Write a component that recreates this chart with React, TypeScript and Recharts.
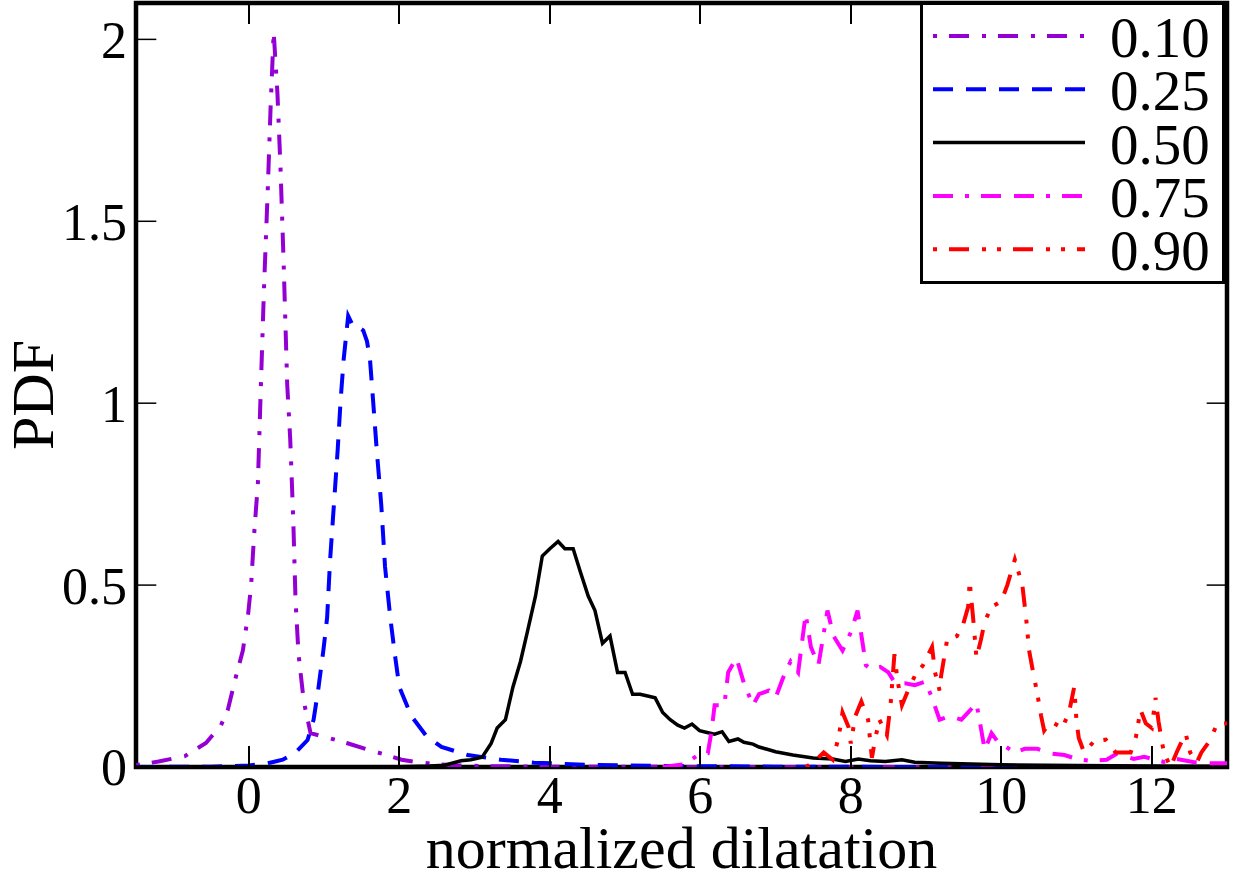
import React from 'react'
import { LineChart, Line, XAxis, YAxis, Legend, ReferenceArea, ReferenceLine } from 'recharts'

// normalized dilatation (x) vs PDF (y), one pair of arrays per quantile
const p10X = [-1.5, -1.2, -0.85, -0.57, -0.37, -0.28, -0.17, -0.08, -0.01, 0.03, 0.07, 0.12, 0.16, 0.2, 0.25, 0.29, 0.33, 0.38, 0.42, 0.46, 0.51, 0.55, 0.59, 0.62, 0.66, 0.73, 0.82, 1.06, 1.3, 1.59, 1.8, 2.03, 2.25, 2.47, 2.8, 3.3, 4, 5, 6, 8, 10, 13]
const p10Y = [0.005, 0.015, 0.03, 0.066, 0.115, 0.157, 0.25, 0.32, 0.42, 0.5, 0.64, 0.78, 1.05, 1.31, 1.58, 1.82, 2.02, 1.85, 1.65, 1.4, 1.05, 0.9, 0.68, 0.46, 0.31, 0.18, 0.093, 0.08, 0.066, 0.047, 0.035, 0.02, 0.013, 0.008, 0.004, 0.002, 0.001, 0.001, 0, 0, 0, 0]

const p25X = [-1.5, -0.5, 0, 0.25, 0.45, 0.62, 0.78, 0.86, 0.92, 0.99, 1.04, 1.08, 1.12, 1.18, 1.22, 1.26, 1.32, 1.39, 1.45, 1.52, 1.57, 1.61, 1.65, 1.7, 1.76, 1.81, 1.88, 1.94, 2.0, 2.16, 2.36, 2.56, 2.91, 3.35, 3.79, 4.5, 5.5, 7, 9, 11, 13]
const p25Y = [0, 0.001, 0.004, 0.01, 0.02, 0.04, 0.074, 0.13, 0.21, 0.32, 0.41, 0.57, 0.69, 0.87, 1.01, 1.12, 1.24, 1.21, 1.21, 1.2, 1.17, 1.12, 1.01, 0.87, 0.72, 0.55, 0.41, 0.31, 0.22, 0.14, 0.085, 0.055, 0.033, 0.02, 0.012, 0.006, 0.003, 0.001, 0, 0, 0]

const p50X = [-1.5, 0, 1, 2, 2.4, 2.6, 2.82, 2.95, 3.1, 3.22, 3.3, 3.41, 3.51, 3.61, 3.7, 3.81, 3.9, 4.0, 4.11, 4.2, 4.31, 4.4, 4.51, 4.6, 4.7, 4.8, 4.9, 5.0, 5.1, 5.2, 5.3, 5.4, 5.5, 5.6, 5.7, 5.79, 5.89, 5.99, 6.09, 6.19, 6.29, 6.38, 6.5, 6.58, 6.7, 6.78, 6.9, 7.0, 7.23, 7.5, 7.76, 7.93, 8.1, 8.26, 8.46, 8.68, 8.85, 9.2, 9.6, 10, 11, 12, 13]
const p50Y = [0, 0, 0, 0.001, 0.003, 0.005, 0.017, 0.02, 0.027, 0.065, 0.107, 0.13, 0.22, 0.29, 0.37, 0.47, 0.58, 0.6, 0.62, 0.6, 0.6, 0.54, 0.47, 0.43, 0.34, 0.36, 0.26, 0.26, 0.2, 0.2, 0.195, 0.19, 0.15, 0.13, 0.115, 0.107, 0.118, 0.1, 0.095, 0.09, 0.097, 0.07, 0.077, 0.068, 0.063, 0.055, 0.048, 0.042, 0.033, 0.025, 0.022, 0.015, 0.022, 0.017, 0.015, 0.02, 0.013, 0.01, 0.008, 0.006, 0.004, 0.003, 0.002]

const p75X = [5.5, 5.8, 5.97, 6.1, 6.15, 6.19, 6.32, 6.37, 6.48, 6.58, 6.7, 6.78, 6.91, 7.0, 7.1, 7.2, 7.3, 7.4, 7.47, 7.57, 7.69, 7.77, 7.89, 8.0, 8.09, 8.15, 8.2, 8.26, 8.39, 8.5, 8.59, 8.72, 8.85, 8.99, 9.08, 9.18, 9.32, 9.47, 9.56, 9.67, 9.71, 9.78, 9.87, 9.95, 10.18, 10.31, 10.48, 10.66, 10.84, 11.0, 11.19, 11.4, 11.54, 11.76, 11.9, 12.16, 12.33, 12.55, 12.78, 13]
const p75Y = [0, 0.008, 0.033, 0.038, 0.1, 0.17, 0.17, 0.26, 0.3, 0.23, 0.17, 0.2, 0.21, 0.19, 0.245, 0.29, 0.26, 0.42, 0.33, 0.28, 0.43, 0.36, 0.32, 0.37, 0.43, 0.35, 0.28, 0.27, 0.275, 0.26, 0.23, 0.23, 0.225, 0.235, 0.19, 0.13, 0.14, 0.13, 0.15, 0.175, 0.13, 0.047, 0.093, 0.07, 0.04, 0.05, 0.05, 0.037, 0.033, 0.022, 0.017, 0.02, 0.037, 0.022, 0.028, 0.014, 0.022, 0.014, 0.01, 0.01]

const p90X = [7.4, 7.49, 7.64, 7.76, 7.84, 7.89, 7.97, 8.0, 8.06, 8.14, 8.23, 8.28, 8.33, 8.38, 8.48, 8.53, 8.58, 8.62, 8.68, 8.76, 8.85, 8.96, 9.08, 9.12, 9.18, 9.2, 9.28, 9.41, 9.49, 9.56, 9.58, 9.63, 9.67, 9.73, 9.78, 9.87, 10.0, 10.08, 10.18, 10.28, 10.33, 10.37, 10.41, 10.48, 10.53, 10.57, 10.66, 10.81, 10.9, 10.97, 11.0, 11.03, 11.1, 11.23, 11.39, 11.52, 11.72, 11.79, 11.85, 11.92, 12.0, 12.05, 12.09, 12.16, 12.25, 12.33, 12.45, 12.51, 12.6, 12.66, 12.78, 12.86, 13]
const p90Y = [0, 0.01, 0.04, 0.02, 0.083, 0.15, 0.11, 0.065, 0.14, 0.18, 0.13, 0.025, 0.083, 0.13, 0.088, 0.175, 0.31, 0.24, 0.17, 0.21, 0.25, 0.28, 0.33, 0.26, 0.21, 0.25, 0.35, 0.36, 0.39, 0.44, 0.51, 0.4, 0.3, 0.35, 0.4, 0.44, 0.455, 0.5, 0.57, 0.5, 0.41, 0.32, 0.275, 0.2, 0.14, 0.1, 0.125, 0.107, 0.15, 0.22, 0.125, 0.08, 0.04, 0.07, 0.075, 0.04, 0.04, 0.083, 0.157, 0.12, 0.107, 0.19, 0.125, 0.04, 0, 0.04, 0.093, 0.04, 0.013, 0.04, 0.075, 0.115, 0.12]

const xTicks = [0, 2, 4, 6, 8, 10, 12]
const yTicks = [0, 0.5, 1, 1.5, 2]

const X_DOMAIN: [number, number] = [-1.5, 13]
const Y_DOMAIN: [number, number] = [0, 2.1]
const X_TICK_LEN = 0.27 // ~20px inward tick on the left/right edges

const MARGIN = { top: 3, right: 11, bottom: 114, left: 135 }
const TICK_MARGIN = 9
const FONT = '"Liberation Serif", "Times New Roman", serif'

const toPoints = (xs: number[], ys: number[]) => xs.map((x, i) => ({ x, y: ys[i] }))

const SERIES = [
  { name: '0.10', color: '#9400d3', dash: '4 12 20 13', width: 4, data: toPoints(p10X, p10Y) },
  { name: '0.25', color: '#0000ff', dash: '20 13', width: 4, data: toPoints(p25X, p25Y) },
  { name: '0.50', color: '#000000', dash: undefined, width: 3.5, data: toPoints(p50X, p50Y) },
  { name: '0.75', color: '#ff00ff', dash: '20 12 4 12 20 13', width: 4, data: toPoints(p75X, p75Y) },
  { name: '0.90', color: '#ff0000', dash: '4 12 20 13 4 11', width: 4, data: toPoints(p90X, p90Y) },
]

const ids = { xAxisId: 'main', yAxisId: 'main', ifOverflow: 'visible' as const }

// x tick: label below the frame plus short inward marks on the bottom and top edges
const XTick = ({ x, y, payload }: any) => {
  const axisY = y - TICK_MARGIN
  const topY = MARGIN.top
  const left = Math.round(x) - 1
  return (
    <g>
      <rect x={left} y={axisY - 21} width={2} height={21} fill="#000" stroke="none" />
      <rect x={left} y={topY} width={2} height={21} fill="#000" stroke="none" />
      <text x={x} y={axisY + 46} textAnchor="middle" fontFamily={FONT} fontSize={52} fill="#000" stroke="none">
        {payload.value}
      </text>
    </g>
  )
}

const LegendBox = () => (
  <svg width={305} height={282} style={{ display: 'block' }}>
    <rect x={1.5} y={1.5} width={302} height={279} fill="#fff" stroke="#000" strokeWidth={3} />
    {SERIES.map((s, i) => {
      const cy = 34 + i * 53.3
      return (
        <g key={s.name}>
          <line x1={13} x2={165} y1={cy} y2={cy} stroke={s.color} strokeWidth={s.width} strokeDasharray={s.dash} />
          <text x={190} y={cy + 21} fontFamily={FONT} fontSize={57} fill="#000">
            {s.name}
          </text>
        </g>
      )
    })}
  </svg>
)

export default function App() {
  return (
    <div style={{ position: 'absolute', left: 0, top: 0, width: 1238, height: 882, background: '#fff' }}>
      <LineChart width={1238} height={882} margin={MARGIN}>
        <XAxis
          xAxisId="main"
          dataKey="x"
          type="number"
          domain={X_DOMAIN}
          ticks={xTicks}
          allowDataOverflow
          height={1}
          axisLine={false}
          tickLine={false}
          tickSize={0}
          tickMargin={TICK_MARGIN}
          tick={<XTick />}
          label={{ value: 'normalized dilatation', position: 'bottom', offset: 57, fill: '#000', fontSize: 60, fontFamily: FONT }}
        />
        <YAxis
          yAxisId="main"
          type="number"
          domain={Y_DOMAIN}
          ticks={yTicks}
          allowDataOverflow
          width={1}
          axisLine={false}
          tickLine={false}
          tickSize={0}
          tickMargin={TICK_MARGIN}
          tick={{ fill: '#000', fontSize: 52, fontFamily: FONT }}
          label={{ value: 'PDF', angle: -90, position: 'center', dx: -104, dy: 10, fill: '#000', fontSize: 60, fontFamily: FONT }}
        />
        {SERIES.map((s) => (
          <Line
            key={s.name}
            xAxisId="main"
            yAxisId="main"
            data={s.data}
            dataKey="y"
            name={s.name}
            type="linear"
            stroke={s.color}
            strokeWidth={s.width}
            strokeDasharray={s.dash}
            dot={false}
            activeDot={false}
            isAnimationActive={false}
          />
        ))}
        {/* inward ticks on left and right edges */}
        {yTicks.map((t) => (
          <ReferenceLine key={`l${t}`} {...ids} stroke="#000" strokeWidth={1.5} segment={[{ x: X_DOMAIN[0], y: t }, { x: X_DOMAIN[0] + X_TICK_LEN, y: t }]} />
        ))}
        {yTicks.map((t) => (
          <ReferenceLine key={`r${t}`} {...ids} stroke="#000" strokeWidth={1.5} segment={[{ x: X_DOMAIN[1], y: t }, { x: X_DOMAIN[1] - X_TICK_LEN, y: t }]} />
        ))}
        <ReferenceArea
          {...ids}
          x1={X_DOMAIN[0]}
          x2={X_DOMAIN[1]}
          y1={Y_DOMAIN[0]}
          y2={Y_DOMAIN[1]}
          fill="none"
          fillOpacity={0}
          stroke="#000"
          strokeWidth={4.5}
        />
        <Legend
          layout="vertical"
          align="center"
          verticalAlign="middle"
          content={() => <LegendBox />}
          wrapperStyle={{ left: 920, top: 2, width: 305, height: 282 }}
        />
      </LineChart>
    </div>
  )
}
